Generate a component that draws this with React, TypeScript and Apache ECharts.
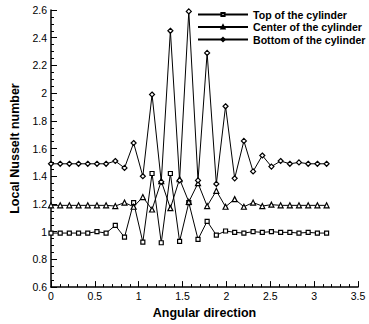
import React, { useEffect, useRef } from "react";
import * as echarts from "echarts";

const angles = [0, 0.105, 0.209, 0.314, 0.419, 0.524, 0.628, 0.733, 0.838, 0.942, 1.047, 1.152, 1.257, 1.361, 1.466, 1.571, 1.676, 1.78, 1.885, 1.99, 2.094, 2.199, 2.304, 2.409, 2.513, 2.618, 2.723, 2.827, 2.932, 3.037, 3.142];
const topValues = [0.99, 0.99, 0.99, 0.99, 0.99, 1.0, 0.99, 1.045, 0.96, 1.21, 0.925, 1.42, 0.92, 1.42, 0.93, 1.21, 0.945, 1.075, 0.975, 1.005, 0.995, 0.99, 1.0, 0.995, 1.0, 0.995, 0.995, 0.99, 0.995, 0.99, 0.99];
const centerValues = [1.19, 1.19, 1.19, 1.19, 1.19, 1.19, 1.19, 1.185, 1.21, 1.18, 1.25, 1.16, 1.365, 1.17, 1.38, 1.215, 1.35, 1.185, 1.295, 1.18, 1.235, 1.18, 1.21, 1.185, 1.195, 1.19, 1.19, 1.19, 1.19, 1.19, 1.19];
const bottomValues = [1.49, 1.49, 1.49, 1.49, 1.49, 1.49, 1.49, 1.51, 1.46, 1.64, 1.4, 1.99, 1.36, 2.45, 1.37, 2.59, 1.37, 2.29, 1.345, 1.905, 1.385, 1.655, 1.435, 1.55, 1.47, 1.51, 1.49, 1.5, 1.49, 1.49, 1.49];
const seriesNames = ["Top of the cylinder", "Center of the cylinder", "Bottom of the cylinder"];
const seriesSymbols = ["rect", "triangle", "diamond"];
const seriesSymbolSizes = [4, 5, 5];

export default function App() {
  const ref = useRef<HTMLDivElement>(null);
  useEffect(() => {
    const chart = echarts.init(ref.current!, null, { renderer: "svg" });
    const font = "'Liberation Sans', Arial, sans-serif";
    const allValues = [topValues, centerValues, bottomValues];
    chart.setOption({
      animation: false,
      backgroundColor: "#ffffff",
      textStyle: { fontFamily: font },
      grid: { left: 51, right: 11, top: 10, bottom: 35 },
      legend: {
        orient: "vertical",
        left: 197,
        top: 9,
        padding: 0,
        itemWidth: 50,
        itemHeight: 4,
        itemGap: 1.5,
        textStyle: { fontFamily: font, fontSize: 10.6, fontWeight: "bold", color: "#000" },
        data: seriesNames,
      },
      xAxis: {
        type: "value",
        min: 0,
        max: 3.5,
        interval: 0.5,
        name: "Angular direction",
        nameLocation: "middle",
        nameGap: 17,
        nameTextStyle: { fontFamily: font, fontSize: 12.5, fontWeight: "bold", color: "#000" },
        axisLine: { onZero: false, lineStyle: { color: "#000", width: 1.5 } },
        axisTick: { inside: true, length: 6, lineStyle: { color: "#000" } },
        minorTick: { show: true, splitNumber: 5, length: 3, lineStyle: { color: "#000" } },
        axisLabel: { fontFamily: font, fontSize: 10.5, color: "#000", margin: 3, formatter: (v: number) => String(v) },
        splitLine: { show: false },
      },
      yAxis: {
        type: "value",
        min: 0.6,
        max: 2.6,
        interval: 0.2,
        name: "Local Nusselt number",
        nameLocation: "middle",
        nameGap: 26,
        nameTextStyle: { fontFamily: font, fontSize: 12.5, fontWeight: "bold", color: "#000" },
        axisLine: { show: true, onZero: false, lineStyle: { color: "#000", width: 1.5 } },
        axisTick: { show: true, inside: true, length: 6, lineStyle: { color: "#000" } },
        minorTick: { show: true, splitNumber: 4, length: 3, lineStyle: { color: "#000" } },
        axisLabel: { fontFamily: font, fontSize: 10.5, color: "#000", margin: 4, formatter: (v: number) => String(Math.round(v * 10) / 10) },
        splitLine: { show: false },
      },
      series: seriesNames.map((name, k) => ({
        name,
        type: "line",
        data: angles.map((a, i) => [a, allValues[k][i]]),
        symbol: seriesSymbols[k],
        symbolSize: seriesSymbolSizes[k],
        showAllSymbol: true,
        lineStyle: { color: "#000", width: 1 },
        itemStyle: { color: "#fff", borderColor: "#000", borderWidth: 1.2 },
      })),
    });
    return () => chart.dispose();
  }, []);
  return <div ref={ref} style={{ width: 369, height: 324, position: "absolute", left: 0, top: 0 }} />;
}
